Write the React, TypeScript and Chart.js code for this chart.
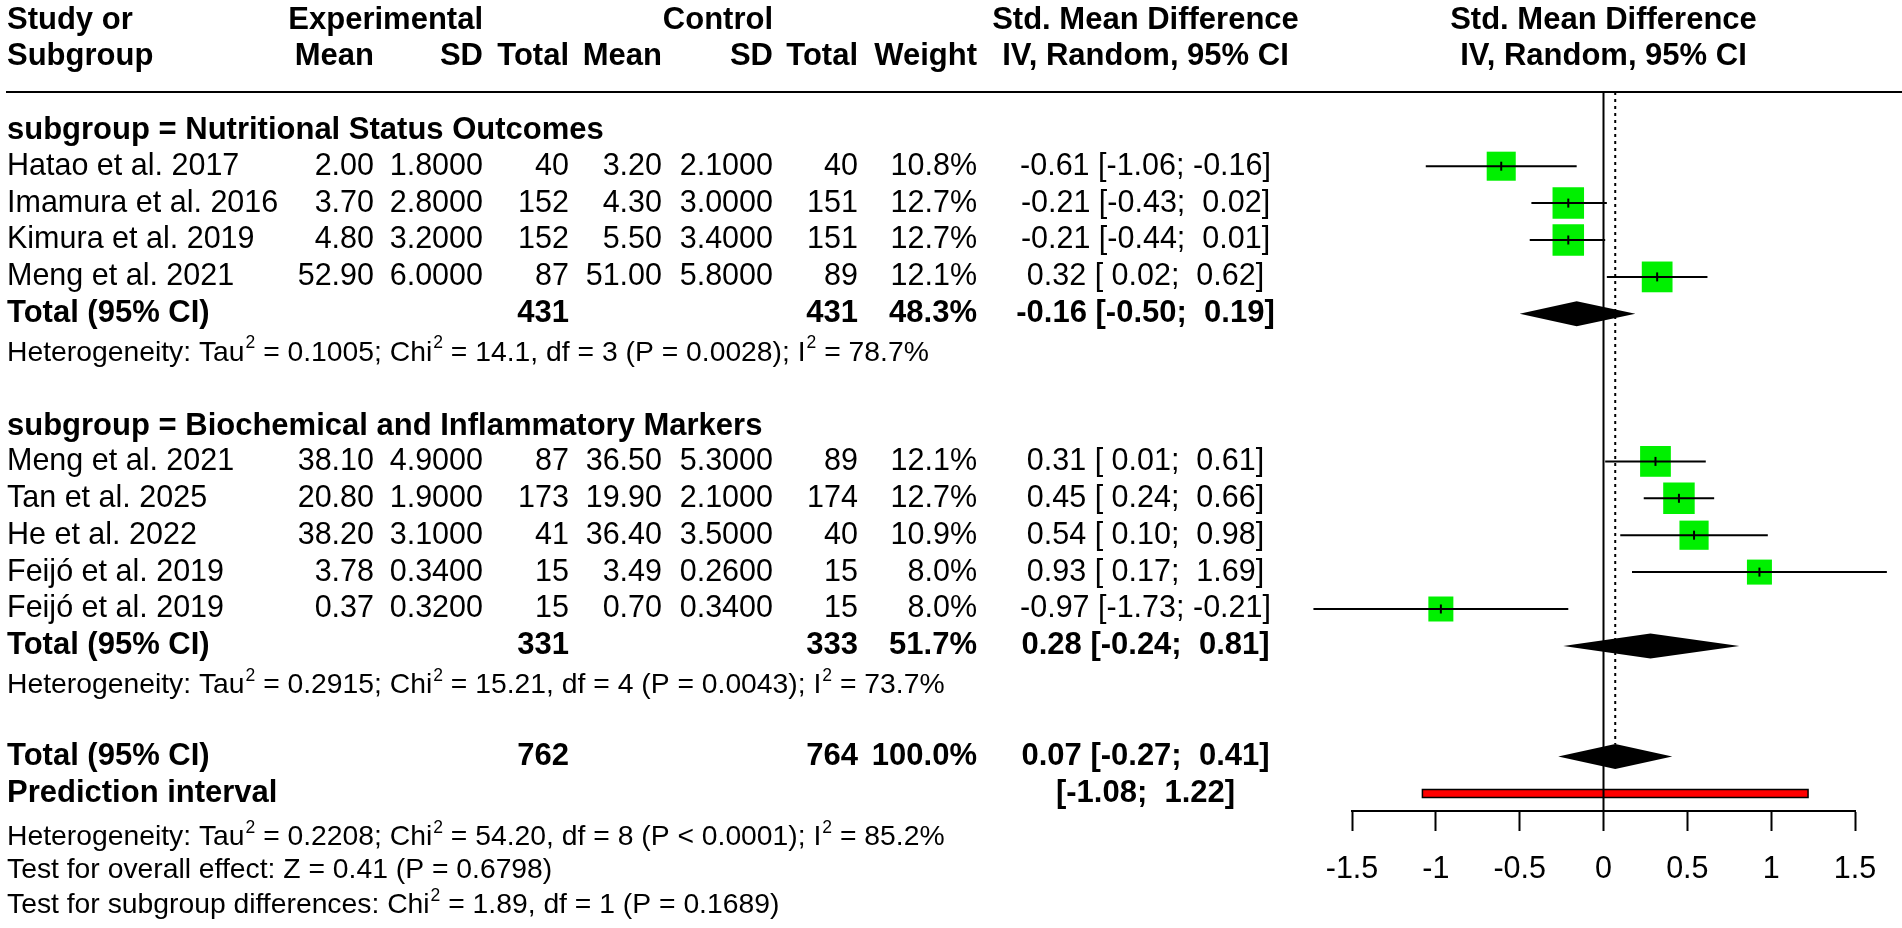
import React, { useEffect, useRef } from "react";
import { Chart, registerables } from "chart.js";

Chart.register(...registerables);

const FONT = '"Liberation Sans", Arial, Helvetica, sans-serif';

// ---------- data ----------
const subgroupNames = ["Nutritional Status Outcomes", "Biochemical and Inflammatory Markers"];
const studyNames = [
  "Hatao et al. 2017",
  "Imamura et al. 2016",
  "Kimura et al. 2019",
  "Meng et al. 2021",
  "Meng et al. 2021",
  "Tan et al. 2025",
  "He et al. 2022",
  "Feijó et al. 2019",
  "Feijó et al. 2019",
];
const studyGroup = [0, 0, 0, 0, 1, 1, 1, 1, 1];
const expMean = [2.0, 3.7, 4.8, 52.9, 38.1, 20.8, 38.2, 3.78, 0.37];
const expSD = [1.8, 2.8, 3.2, 6.0, 4.9, 1.9, 3.1, 0.34, 0.32];
const expN = [40, 152, 152, 87, 87, 173, 41, 15, 15];
const ctrlMean = [3.2, 4.3, 5.5, 51.0, 36.5, 19.9, 36.4, 3.49, 0.7];
const ctrlSD = [2.1, 3.0, 3.4, 5.8, 5.3, 2.1, 3.5, 0.26, 0.34];
const ctrlN = [40, 151, 151, 89, 89, 174, 40, 15, 15];
const weights = [10.8, 12.7, 12.7, 12.1, 12.1, 12.7, 10.9, 8.0, 8.0];
const smd = [-0.61, -0.21, -0.21, 0.32, 0.31, 0.45, 0.54, 0.93, -0.97];
const ciLower = [-1.06, -0.43, -0.44, 0.02, 0.01, 0.24, 0.1, 0.17, -1.73];
const ciUpper = [-0.16, 0.02, 0.01, 0.62, 0.61, 0.66, 0.98, 1.69, -0.21];

const subExpN = [431, 331];
const subCtrlN = [431, 333];
const subWeight = [48.3, 51.7];
const subSmd = [-0.16, 0.28];
const subLower = [-0.5, -0.24];
const subUpper = [0.19, 0.81];
const subTau2 = ["0.1005", "0.2915"];
const subChi2 = ["14.1", "15.21"];
const subDf = [3, 4];
const subP = ["= 0.0028", "= 0.0043"];
const subI2 = ["78.7", "73.7"];

const totalExpN = 762;
const totalCtrlN = 764;
const totalWeight = 100.0;
const overallSmd = 0.07;
const overallLower = -0.27;
const overallUpper = 0.41;
const predLower = -1.08;
const predUpper = 1.22;
const overallTau2 = "0.2208";
const overallChi2 = "54.20";
const overallDf = 8;
const overallP = "< 0.0001";
const overallI2 = "85.2";
const overallZ = "0.41";
const overallZP = "0.6798";
const diffChi2 = "1.89";
const diffDf = 1;
const diffP = "0.1689";

const xTicks = [-1.5, -1, -0.5, 0, 0.5, 1, 1.5];

// ---------- layout (row grid) ----------
const ROW0 = 129.3;
const ROWH = 36.9;
const TOP = 92;
const AXIS = 811;
const groupStart: number[] = [];
{
  let r = 0;
  subgroupNames.forEach((_, g) => {
    groupStart.push(r);
    const n = studyGroup.filter((s) => s === g).length;
    r += n + 4; // header, studies, total, heterogeneity, blank
  });
}
const groupCount = subgroupNames.map((_, g) => studyGroup.filter((s) => s === g).length);
const studyRow = studyGroup.map((g, i) => {
  const k = studyGroup.slice(0, i).filter((s) => s === g).length;
  return groupStart[g] + 1 + k;
});
const subTotalRow = subgroupNames.map((_, g) => groupStart[g] + 1 + groupCount[g]);
const subHetRow = subTotalRow.map((r) => r + 1);
const overallRow = subHetRow[subHetRow.length - 1] + 2;
const predRow = overallRow + 1;

const f2 = (v: number) => v.toFixed(2);
const f4 = (v: number) => v.toFixed(4);
const pad = (v: number) => (v < 0 ? v.toFixed(2) : " " + v.toFixed(2));
const ciText = (e: number, l: number, u: number) => `${f2(e)} [${pad(l)}; ${pad(u)}]`;

const COL = {
  study: 7,
  expMean: 374,
  expSD: 483,
  expN: 569,
  ctrlMean: 662,
  ctrlSD: 773,
  ctrlN: 858,
  weight: 977,
  ci: 1145.5,
};
const FS = 30.5;
const FS_B = 31;
const FS_HET = 28.3;

function txt(ctx: CanvasRenderingContext2D, s: string, x: number, y: number, align: CanvasTextAlign, bold = false) {
  ctx.font = bold ? `bold ${FS_B}px ${FONT}` : `${FS}px ${FONT}`;
  ctx.textAlign = align;
  ctx.textBaseline = "middle";
  ctx.fillText(s, x, y);
}

function rich(ctx: CanvasRenderingContext2D, s: string, x: number, y: number, size = FS_HET) {
  const parts = s.split("^");
  let cx = x;
  ctx.textAlign = "left";
  ctx.textBaseline = "alphabetic";
  const base = y + 0.355 * size;
  parts.forEach((p, idx) => {
    let main = p;
    if (idx > 0) {
      const sup = p[0];
      main = p.slice(1);
      const ss = size * 0.62;
      ctx.font = `${ss}px ${FONT}`;
      ctx.fillText(sup, cx + 1, y - 0.08 * size);
      cx += ctx.measureText(sup).width + 1;
    }
    ctx.font = `${size}px ${FONT}`;
    ctx.fillText(main, cx, base);
    cx += ctx.measureText(main).width;
  });
}

const forestPlugin = {
  id: "forestExtras",
  beforeDatasetsDraw(chart: any) {
    const { ctx, chartArea } = chart;
    const xs = chart.scales.x;
    const ys = chart.scales.y;
    ctx.save();
    // prediction interval bar
    const py = ys.getPixelForValue(predRow);
    const p1 = xs.getPixelForValue(predLower);
    const p2 = xs.getPixelForValue(predUpper);
    ctx.fillStyle = "#ff0000";
    ctx.fillRect(p1, py - 4, p2 - p1, 8);
    ctx.strokeStyle = "#000";
    ctx.lineWidth = 1.5;
    ctx.strokeRect(p1, py - 4, p2 - p1, 8);
    // diamonds
    const diamonds = subSmd
      .map((e, g) => ({ e, l: subLower[g], u: subUpper[g], r: subTotalRow[g] }))
      .concat([{ e: overallSmd, l: overallLower, u: overallUpper, r: overallRow }]);
    ctx.fillStyle = "#000";
    diamonds.forEach((d) => {
      const cy = ys.getPixelForValue(d.r);
      const h = 12.5;
      ctx.beginPath();
      ctx.moveTo(xs.getPixelForValue(d.l), cy);
      ctx.lineTo(xs.getPixelForValue(d.e), cy - h);
      ctx.lineTo(xs.getPixelForValue(d.u), cy);
      ctx.lineTo(xs.getPixelForValue(d.e), cy + h);
      ctx.closePath();
      ctx.fill();
    });
    // reference lines
    const x0 = xs.getPixelForValue(0);
    ctx.strokeStyle = "#000";
    ctx.lineWidth = 2;
    ctx.beginPath();
    ctx.moveTo(x0, chartArea.top);
    ctx.lineTo(x0, chartArea.bottom);
    ctx.stroke();
    const xe = xs.getPixelForValue(overallSmd);
    ctx.setLineDash([3, 4]);
    ctx.beginPath();
    ctx.moveTo(xe, chartArea.top);
    ctx.lineTo(xe, ys.getPixelForValue(overallRow) - 12.5);
    ctx.stroke();
    ctx.setLineDash([]);
    // header rule
    ctx.lineWidth = 2;
    ctx.beginPath();
    ctx.moveTo(6, chartArea.top);
    ctx.lineTo(chart.width, chartArea.top);
    ctx.stroke();
    ctx.restore();
  },
  afterDraw(chart: any) {
    const { ctx } = chart;
    const ys = chart.scales.y;
    const xs = chart.scales.x;
    const yr = (r: number) => ys.getPixelForValue(r);
    const forestCenter = xs.getPixelForValue(0);
    ctx.save();
    ctx.fillStyle = "#000";
    // headers
    const h1 = 20.5;
    const h2 = 56.5;
    txt(ctx, "Study or", COL.study, h1, "left", true);
    txt(ctx, "Subgroup", COL.study, h2, "left", true);
    txt(ctx, "Experimental", COL.expSD, h1, "right", true);
    txt(ctx, "Control", COL.ctrlSD, h1, "right", true);
    txt(ctx, "Mean", COL.expMean, h2, "right", true);
    txt(ctx, "SD", COL.expSD, h2, "right", true);
    txt(ctx, "Total", COL.expN, h2, "right", true);
    txt(ctx, "Mean", COL.ctrlMean, h2, "right", true);
    txt(ctx, "SD", COL.ctrlSD, h2, "right", true);
    txt(ctx, "Total", COL.ctrlN, h2, "right", true);
    txt(ctx, "Weight", COL.weight, h2, "right", true);
    txt(ctx, "Std. Mean Difference", COL.ci, h1, "center", true);
    txt(ctx, "IV, Random, 95% CI", COL.ci, h2, "center", true);
    txt(ctx, "Std. Mean Difference", forestCenter, h1, "center", true);
    txt(ctx, "IV, Random, 95% CI", forestCenter, h2, "center", true);

    subgroupNames.forEach((name, g) => {
      txt(ctx, `subgroup = ${name}`, COL.study, yr(groupStart[g]) + 1.5, "left", true);
      const tr = yr(subTotalRow[g]);
      txt(ctx, "Total (95% CI)", COL.study, tr, "left", true);
      txt(ctx, String(subExpN[g]), COL.expN, tr, "right", true);
      txt(ctx, String(subCtrlN[g]), COL.ctrlN, tr, "right", true);
      txt(ctx, `${subWeight[g].toFixed(1)}%`, COL.weight, tr, "right", true);
      txt(ctx, ciText(subSmd[g], subLower[g], subUpper[g]), COL.ci, tr, "center", true);
      rich(
        ctx,
        `Heterogeneity: Tau^2 = ${subTau2[g]}; Chi^2 = ${subChi2[g]}, df = ${subDf[g]} (P ${subP[g]}); I^2 = ${subI2[g]}%`,
        COL.study,
        yr(subHetRow[g])
      );
    });

    studyNames.forEach((name, i) => {
      const y = yr(studyRow[i]);
      txt(ctx, name, COL.study, y, "left");
      txt(ctx, f2(expMean[i]), COL.expMean, y, "right");
      txt(ctx, f4(expSD[i]), COL.expSD, y, "right");
      txt(ctx, String(expN[i]), COL.expN, y, "right");
      txt(ctx, f2(ctrlMean[i]), COL.ctrlMean, y, "right");
      txt(ctx, f4(ctrlSD[i]), COL.ctrlSD, y, "right");
      txt(ctx, String(ctrlN[i]), COL.ctrlN, y, "right");
      txt(ctx, `${weights[i].toFixed(1)}%`, COL.weight, y, "right");
      txt(ctx, ciText(smd[i], ciLower[i], ciUpper[i]), COL.ci, y, "center");
    });

    const oy = yr(overallRow);
    txt(ctx, "Total (95% CI)", COL.study, oy, "left", true);
    txt(ctx, String(totalExpN), COL.expN, oy, "right", true);
    txt(ctx, String(totalCtrlN), COL.ctrlN, oy, "right", true);
    txt(ctx, `${totalWeight.toFixed(1)}%`, COL.weight, oy, "right", true);
    txt(ctx, ciText(overallSmd, overallLower, overallUpper), COL.ci, oy, "center", true);
    const pr = yr(predRow);
    txt(ctx, "Prediction interval", COL.study, pr, "left", true);
    txt(ctx, `[${pad(predLower)}; ${pad(predUpper)}]`, COL.ci, pr, "center", true);

    rich(
      ctx,
      `Heterogeneity: Tau^2 = ${overallTau2}; Chi^2 = ${overallChi2}, df = ${overallDf} (P ${overallP}); I^2 = ${overallI2}%`,
      COL.study,
      835
    );
    rich(ctx, `Test for overall effect: Z = ${overallZ} (P = ${overallZP})`, COL.study, 868);
    rich(ctx, `Test for subgroup differences: Chi^2 = ${diffChi2}, df = ${diffDf} (P = ${diffP})`, COL.study, 903);
    ctx.restore();
  },
};

export default function App() {
  const ref = useRef<HTMLCanvasElement | null>(null);
  useEffect(() => {
    document.body.style.margin = "0";
    const canvas = ref.current;
    if (!canvas) return;
    const squareSide = weights.map((w) => 8.84 * Math.sqrt(w));
    const ciData: { x: number; y: number }[] = [];
    smd.forEach((_, i) => {
      ciData.push({ x: ciLower[i], y: studyRow[i] });
      ciData.push({ x: ciUpper[i], y: studyRow[i] });
      ciData.push({ x: NaN, y: NaN });
    });
    const pts = smd.map((v, i) => ({ x: v, y: studyRow[i] }));
    const chart = new Chart(canvas, {
      type: "scatter",
      data: {
        datasets: [
          {
            label: "estimate",
            data: pts,
            pointStyle: "line",
            pointRotation: 90,
            pointRadius: 4.5,
            pointBorderWidth: 2,
            pointBorderColor: "#000",
            pointBackgroundColor: "#000",
            clip: false,
            order: 1,
          } as any,
          {
            label: "ci",
            data: ciData,
            showLine: true,
            spanGaps: false,
            borderColor: "#000",
            borderWidth: 2,
            pointRadius: 0,
            clip: false,
            order: 2,
          } as any,
          {
            label: "weight",
            data: pts,
            pointStyle: "rect",
            pointRadius: squareSide.map((s) => s / Math.SQRT2),
            pointBackgroundColor: "#00f000",
            pointBorderWidth: 0,
            borderWidth: 0,
            clip: false,
            order: 3,
          } as any,
        ],
      },
      options: {
        animation: false,
        responsive: false,
        events: [],
        layout: { padding: { left: 1352, right: 47, top: TOP, bottom: 0 } },
        plugins: {
          legend: { display: false },
          tooltip: { enabled: false },
          title: { display: false },
        },
        scales: {
          x: {
            type: "linear",
            position: "bottom",
            min: xTicks[0],
            max: xTicks[xTicks.length - 1],
            afterFit: (s: any) => {
              s.height = 928 - AXIS;
            },
            afterBuildTicks: (s: any) => {
              s.ticks = xTicks.map((v) => ({ value: v }));
            },
            ticks: {
              color: "#000",
              font: { family: FONT, size: 30.5 },
              padding: 20,
              maxRotation: 0,
              autoSkip: false,
              callback: (v: any) => String(v),
            },
            grid: {
              drawOnChartArea: false,
              drawTicks: true,
              tickLength: 20,
              tickColor: "#000",
              tickWidth: 2,
            },
            border: { display: true, color: "#000", width: 2 },
          },
          y: {
            type: "linear",
            display: false,
            reverse: true,
            min: (TOP - ROW0) / ROWH,
            max: (AXIS - ROW0) / ROWH,
          },
        },
      } as any,
      plugins: [forestPlugin as any],
    });
    return () => chart.destroy();
  }, []);
  return (
    <canvas
      ref={ref}
      width={1902}
      height={928}
      style={{ display: "block", width: "1902px", height: "928px" }}
    />
  );
}
